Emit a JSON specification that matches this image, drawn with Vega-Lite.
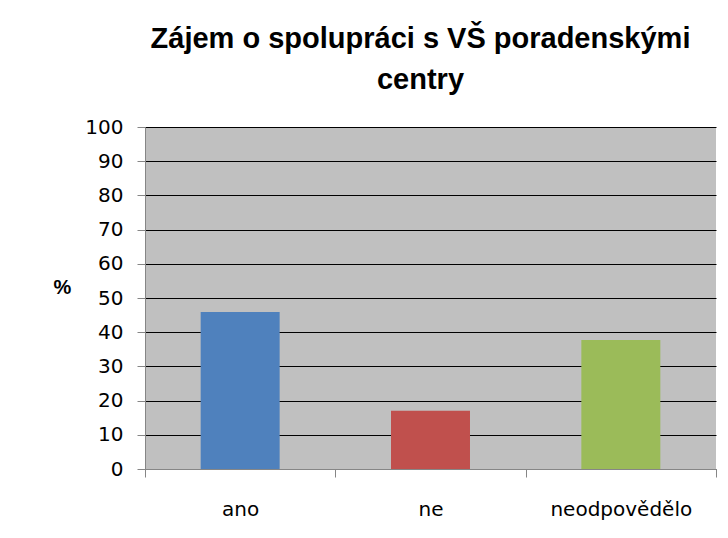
{
  "$schema": "https://vega.github.io/schema/vega-lite/v6.json",
  "autosize": {"type": "none"},
  "padding": {"left": 145, "top": 127, "right": 12, "bottom": 69},
  "width": 571,
  "height": 342,
  "background": "white",
  "title": {
    "text": ["Zájem o spolupráci s VŠ poradenskými", "centry"],
    "font": "Liberation Sans",
    "fontSize": 29,
    "fontWeight": "bold",
    "color": "#000000",
    "anchor": "middle",
    "lineHeight": 41,
    "offset": 22,
    "dx": -10
  },
  "data": {
    "values": [
      {"odpoved": "ano", "procent": 45.9},
      {"odpoved": "ne", "procent": 17.0},
      {"odpoved": "neodpovědělo", "procent": 37.7}
    ]
  },
  "mark": {"type": "bar", "width": {"band": 0.415}},
  "encoding": {
    "x": {
      "field": "odpoved",
      "type": "nominal",
      "sort": null,
      "scale": {"paddingInner": 0, "paddingOuter": 0},
      "axis": {
        "title": null,
        "labelAngle": 0,
        "labelFont": "DejaVu Sans",
        "labelFontSize": 20,
        "labelColor": "#000000",
        "labelPadding": 22,
        "tickBand": "extent",
        "tickColor": "#868686",
        "tickSize": 8,
        "domainColor": "#868686",
        "grid": false
      }
    },
    "y": {
      "field": "procent",
      "type": "quantitative",
      "scale": {"domain": [0, 100], "nice": false},
      "axis": {
        "title": "%",
        "titleAngle": 0,
        "titleFont": "Liberation Sans",
        "titleFontSize": 20,
        "titleFontWeight": "bold",
        "titleColor": "#000000",
        "titleX": -83,
        "titleY": 160,
        "titleAlign": "center",
        "titleBaseline": "middle",
        "values": [0, 10, 20, 30, 40, 50, 60, 70, 80, 90, 100],
        "labelFont": "DejaVu Sans",
        "labelFontSize": 20,
        "labelColor": "#000000",
        "labelPadding": 14,
        "tickColor": "#868686",
        "tickSize": 8,
        "domainColor": "#868686",
        "grid": true,
        "gridColor": "#000000",
        "gridWidth": 1
      }
    },
    "color": {
      "field": "odpoved",
      "type": "nominal",
      "sort": null,
      "scale": {"range": ["#4F81BD", "#C0504D", "#9BBB59"]},
      "legend": null
    }
  },
  "config": {
    "view": {"fill": "#C0C0C0", "stroke": null}
  }
}
